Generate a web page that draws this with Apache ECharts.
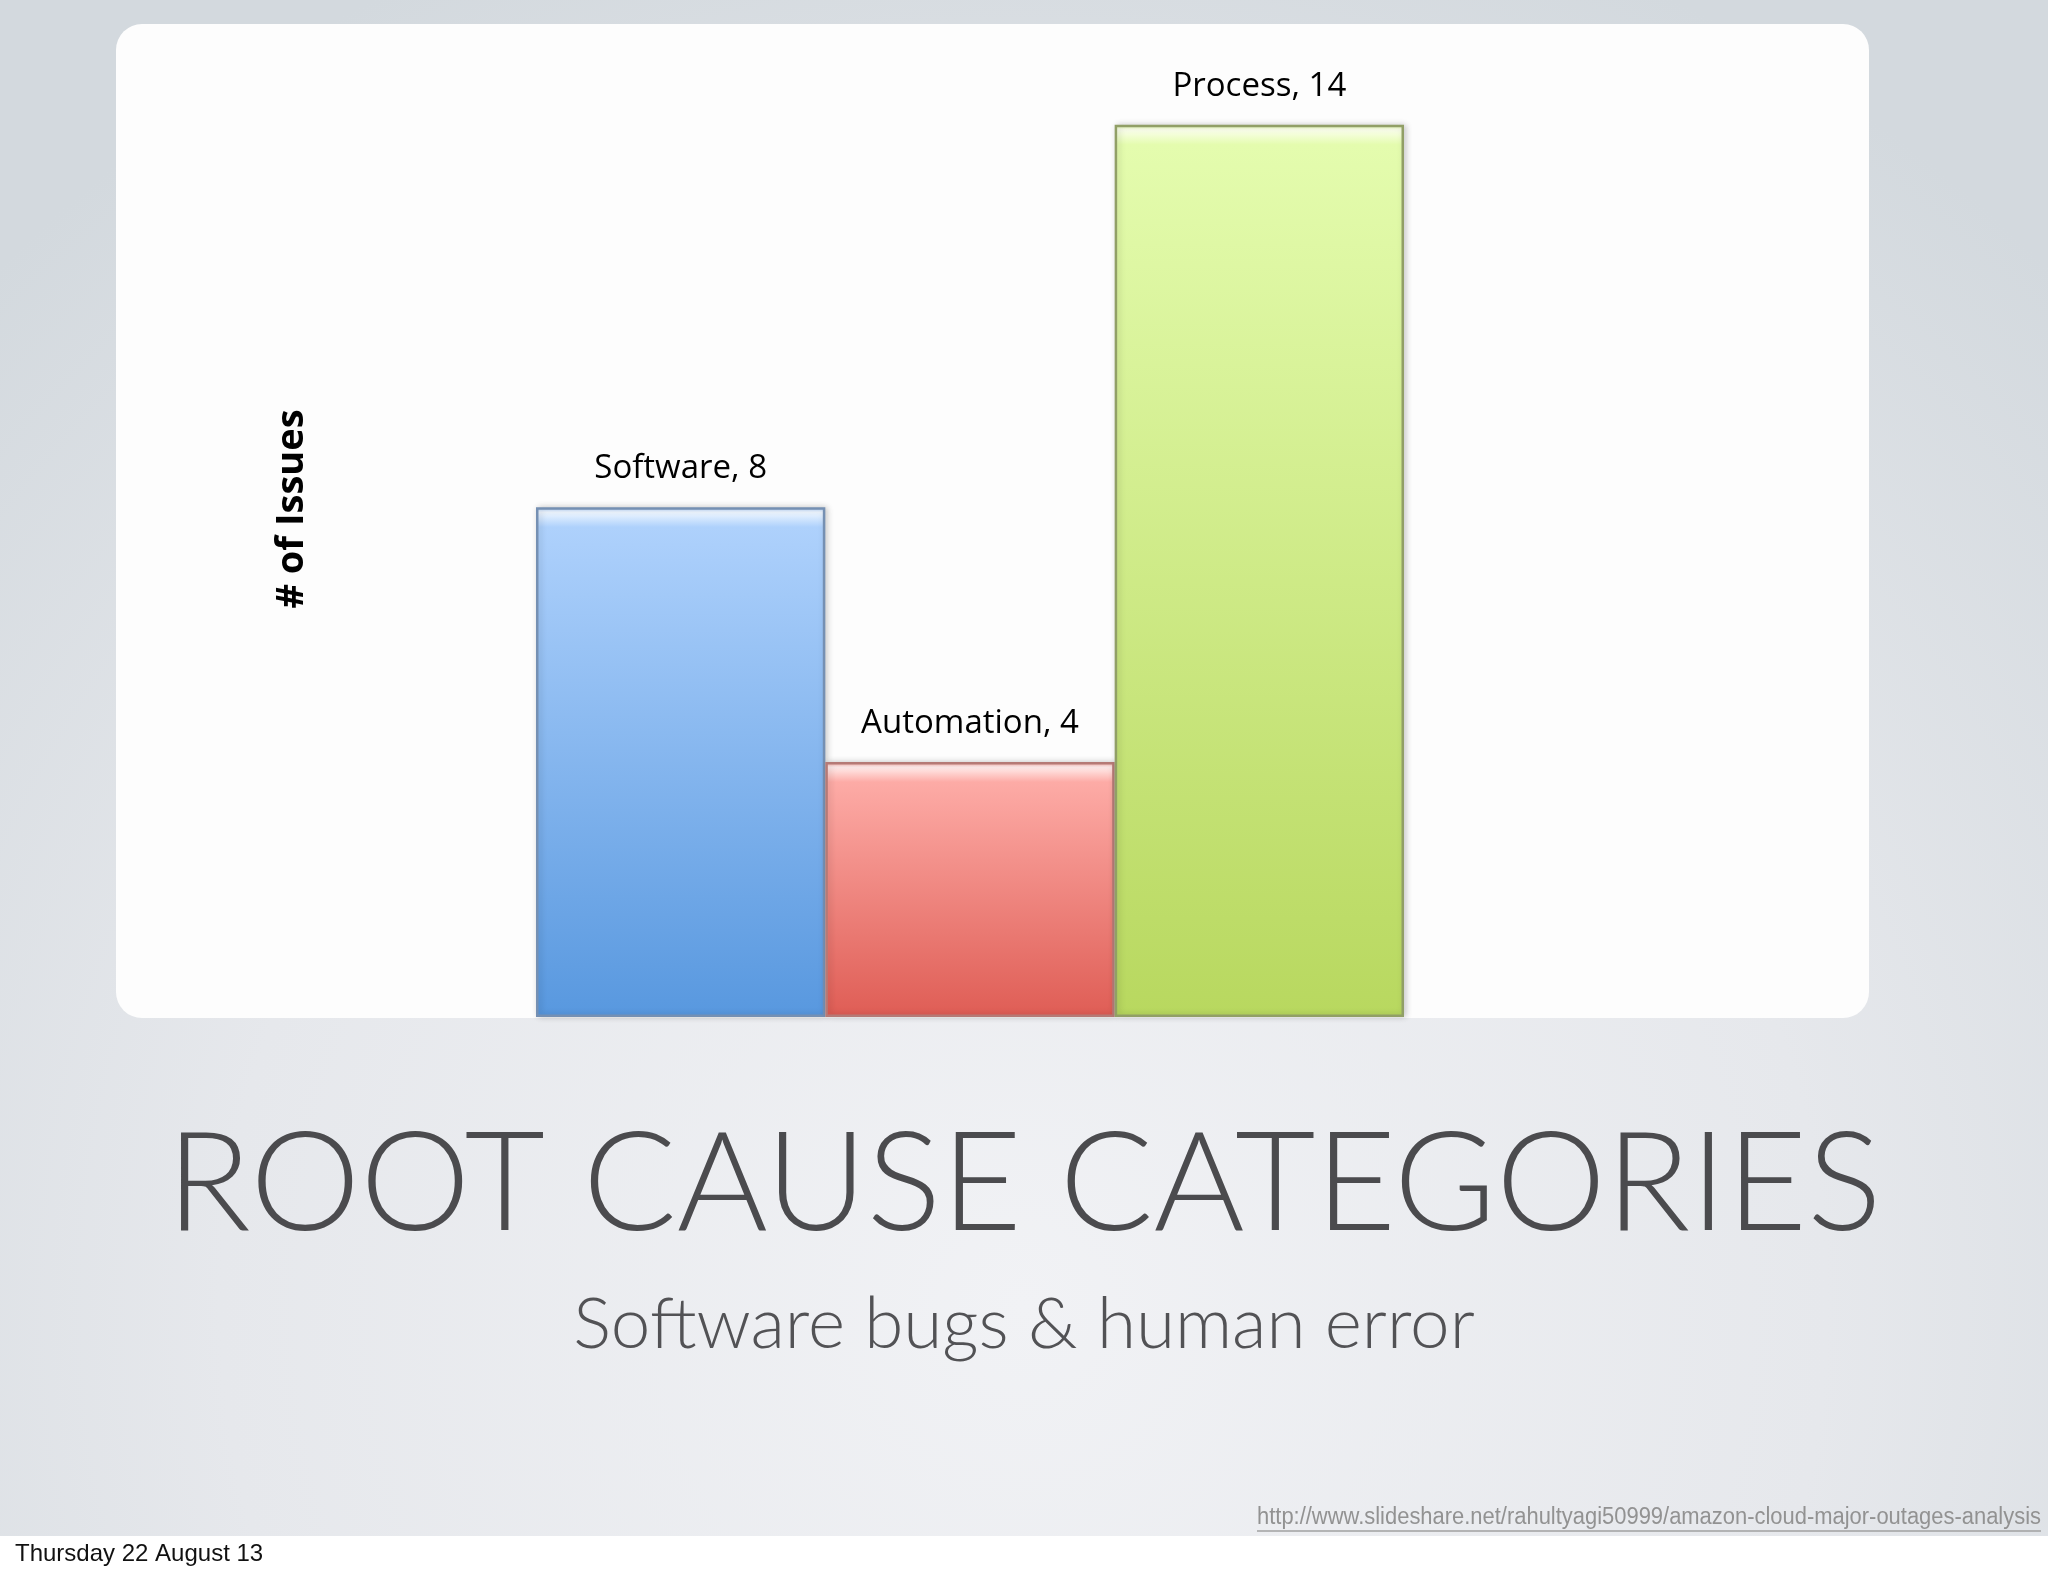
<!DOCTYPE html>
<html>
<head>
<meta charset="utf-8">
<style>
  html, body { margin: 0; padding: 0; background: #e6e9ec; }
  #chart { width: 2048px; height: 1576px; }
</style>
<script src="https://cdn.jsdelivr.net/npm/echarts@6/dist/echarts.min.js"></script>
</head>
<body>
<div id="chart"></div>
<script>
// data
const categories = ['Software', 'Automation', 'Process']
const issueCounts = [8, 4, 14]
const axisMax = 15

// bar palette: [highlight, top, bottom, border]
const palette = [
  ['#eef6ff', '#aed1fc', '#5898df', '#7590b3'],
  ['#ffeceb', '#fdaba6', '#df5d55', '#b57a76'],
  ['#fbffec', '#e4fcae', '#b8d85f', '#919f66']
]

const chart = echarts.init(document.getElementById('chart'), null, { renderer: 'canvas' })

const gridTop = 61
const gridBottom = 1576 - 1017
const plotH = 1017 - gridTop

function barColor(i) {
  const [hl, top, bottom] = palette[i]
  const h = issueCounts[i] / axisMax * plotH
  const f = Math.min(0.2, 20 / h)
  return {
    type: 'linear', x: 0, y: 0, x2: 0, y2: 1,
    colorStops: [
      { offset: 0, color: top },
      { offset: f * 0.25, color: hl },
      { offset: f, color: top },
      { offset: 1, color: bottom }
    ]
  }
}

// the source url is drawn narrow, squeeze it to the width it has on the slide
const urlText = 'http://www.slideshare.net/rahultyagi50999/amazon-cloud-major-outages-analysis'
const ctx = document.createElement('canvas').getContext('2d')
ctx.font = '23px "Liberation Sans"'
const urlScale = 784 / ctx.measureText(urlText).width

const option = {
  animation: false,
  title: [
    {
      text: 'ROOT CAUSE CATEGORIES',
      left: 'center',
      top: 1112,
      padding: 0,
      textStyle: { fontFamily: 'Lato', fontWeight: 300, fontSize: 139, lineHeight: 146, color: '#4b4b4e' }
    },
    {
      text: 'Software bugs & human error',
      left: 'center',
      top: 1288,
      padding: 0,
      textStyle: { fontFamily: 'Lato', fontWeight: 300, fontSize: 71, lineHeight: 74, color: '#525255' }
    },
    {
      text: 'Thursday 22 August 13',
      left: 15,
      top: 1541,
      padding: 0,
      textStyle: { fontFamily: 'Liberation Sans', fontWeight: 'normal', fontSize: 24, lineHeight: 26, color: '#111' }
    }
  ],
  graphic: [
    {
      type: 'rect', z: -10, silent: true,
      shape: { x: 0, y: 0, width: 2048, height: 1536 },
      style: {
        fill: {
          type: 'radial', x: 0.5, y: 0.85, r: 0.95,
          colorStops: [
            { offset: 0, color: '#f1f2f5' },
            { offset: 0.55, color: '#e6e8ec' },
            { offset: 1, color: '#d3d9de' }
          ]
        }
      }
    },
    {
      type: 'rect', z: -10, silent: true,
      shape: { x: 0, y: 1536, width: 2048, height: 40 },
      style: { fill: '#ffffff' }
    },
    {
      type: 'rect', z: -9, silent: true,
      shape: { x: 116, y: 24, width: 1753, height: 994, r: 26 },
      style: { fill: '#fdfdfd' }
    },
    {
      type: 'text', silent: true,
      x: 1257, y: 1518, scaleX: urlScale,
      style: {
        text: urlText,
        font: '23px "Liberation Sans"',
        fill: '#929292',
        verticalAlign: 'middle'
      }
    },
    {
      type: 'line', silent: true,
      shape: { x1: 1257, y1: 1531, x2: 2041, y2: 1531 },
      style: { stroke: '#a0a0a0', lineWidth: 1.5 }
    }
  ],
  grid: { left: 536, width: 868, top: gridTop, bottom: gridBottom, containLabel: false },
  xAxis: {
    type: 'category',
    data: categories,
    axisLine: { show: false },
    axisTick: { show: false },
    axisLabel: { show: false }
  },
  yAxis: {
    type: 'value',
    min: 0,
    max: axisMax,
    interval: 5,
    axisLine: { show: false },
    axisTick: { show: false },
    axisLabel: { show: false },
    splitLine: { show: false },
    name: '# of Issues',
    nameLocation: 'middle',
    nameRotate: 90,
    nameGap: 225,
    nameTextStyle: {
      fontFamily: 'Open Sans',
      fontWeight: 'bold',
      fontSize: 38,
      color: '#000',
      padding: [0, 0, 0, 60]
    }
  },
  series: [
    {
      type: 'bar',
      barCategoryGap: '0%',
      data: issueCounts.map((v, i) => ({
        value: v,
        itemStyle: {
          color: barColor(i),
          borderColor: palette[i][3],
          borderWidth: 2.5,
          shadowColor: 'rgba(0,0,0,0.18)',
          shadowBlur: 6,
          shadowOffsetX: 2
        }
      })),
      label: {
        show: true,
        position: 'top',
        distance: 22,
        formatter: '{b}, {c}',
        fontFamily: 'Open Sans',
        fontSize: 33,
        color: '#000'
      }
    }
  ]
}

chart.setOption(option)
</script>
</body>
</html>
